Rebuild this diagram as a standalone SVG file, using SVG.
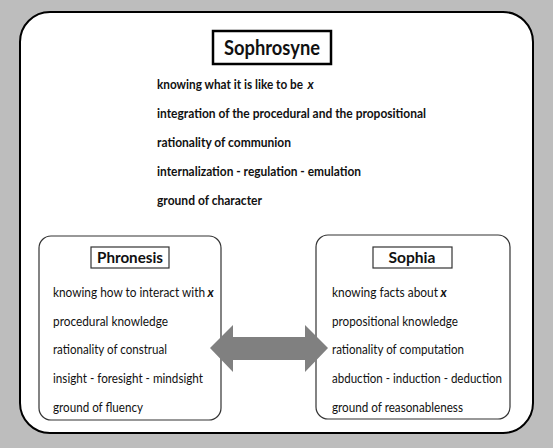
<svg xmlns="http://www.w3.org/2000/svg" width="553" height="448" viewBox="0 0 553 448">
<style>
.t{font-family:"Lato","Open Sans","Liberation Sans",sans-serif;font-size:12.8px;fill:#111}
.b{font-weight:bold}
.i{font-style:italic;font-weight:bold}
.h{font-family:"Lato","Open Sans","Liberation Sans",sans-serif;font-weight:bold;fill:#111}
.box{fill:#fff;stroke:#333;stroke-width:1.2}
.lab{fill:#fff;stroke:#333;stroke-width:1.2}
</style>
<rect x="0" y="0" width="553" height="448" fill="#bdbdbd"/>
<g id="frame">
<rect x="20" y="12" width="513" height="421" rx="30" ry="30" fill="#fff" stroke="#000" stroke-width="2"/>
</g>
<g id="sophrosyne">
<rect x="213" y="31" width="118" height="33" fill="#fff" stroke="#000" stroke-width="2.5"/>
<text class="h" x="272" y="55" text-anchor="middle" font-size="20" textLength="96" lengthAdjust="spacingAndGlyphs">Sophrosyne</text>
<text class="t b" x="157" y="89" textLength="146" lengthAdjust="spacingAndGlyphs">knowing what it is like to be</text>
<text class="t i" x="307.5" y="89">x</text>
<text class="t b" x="157" y="118" textLength="269" lengthAdjust="spacingAndGlyphs">integration of the procedural and the propositional</text>
<text class="t b" x="157" y="147" textLength="134" lengthAdjust="spacingAndGlyphs">rationality of communion</text>
<text class="t b" x="157" y="176" textLength="204" lengthAdjust="spacingAndGlyphs">internalization - regulation - emulation</text>
<text class="t b" x="157" y="205" textLength="105" lengthAdjust="spacingAndGlyphs">ground of character</text>
</g>
<g id="phronesis">
<rect class="box" x="39" y="236" width="182" height="184" rx="12" ry="12"/>
<rect class="lab" x="91" y="247" width="78" height="21"/>
<text class="h" x="130" y="263" text-anchor="middle" font-size="15" textLength="66" lengthAdjust="spacingAndGlyphs">Phronesis</text>
<text class="t" x="53" y="297" textLength="152" lengthAdjust="spacingAndGlyphs">knowing how to interact with</text>
<text class="t i" x="207.5" y="297">x</text>
<text class="t" x="53" y="326" textLength="115" lengthAdjust="spacingAndGlyphs">procedural knowledge</text>
<text class="t" x="53" y="354" textLength="114" lengthAdjust="spacingAndGlyphs">rationality of construal</text>
<text class="t" x="53" y="383" textLength="150" lengthAdjust="spacingAndGlyphs">insight - foresight - mindsight</text>
<text class="t" x="53" y="412" textLength="90" lengthAdjust="spacingAndGlyphs">ground of fluency</text>
</g>
<g id="sophia">
<rect class="box" x="316" y="235" width="194" height="184" rx="12" ry="12"/>
<rect class="lab" x="373" y="247" width="79" height="21"/>
<text class="h" x="412" y="263" text-anchor="middle" font-size="15" textLength="47" lengthAdjust="spacingAndGlyphs">Sophia</text>
<text class="t" x="332" y="297" textLength="106" lengthAdjust="spacingAndGlyphs">knowing facts about</text>
<text class="t i" x="440.5" y="297">x</text>
<text class="t" x="332" y="326" textLength="126" lengthAdjust="spacingAndGlyphs">propositional knowledge</text>
<text class="t" x="332" y="354" textLength="132" lengthAdjust="spacingAndGlyphs">rationality of computation</text>
<text class="t" x="332" y="383" textLength="170" lengthAdjust="spacingAndGlyphs">abduction - induction - deduction</text>
<text class="t" x="332" y="412" textLength="131" lengthAdjust="spacingAndGlyphs">ground of reasonableness</text>
</g>
<g id="connectors">
<polygon points="210,348 233,325 233,337 305,337 305,325 328,348 305,372 305,360 233,360 233,372" fill="#808080"/>
</g>
</svg>
